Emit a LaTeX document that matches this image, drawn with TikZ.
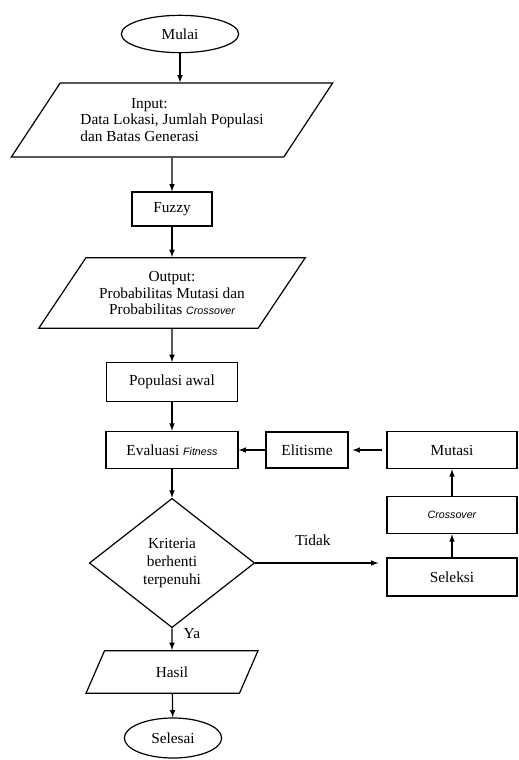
\documentclass[tikz,border=0pt]{standalone}
\usepackage{fontspec}
\setmainfont{Liberation Serif}
\setsansfont{Liberation Sans}
\usetikzlibrary{arrows,shapes.geometric}

\newcommand{\istilah}[1]{{\sffamily\itshape\footnotesize #1}}

\tikzset{
    terminal/.style={draw, ellipse, inner sep=0pt},
    proses/.style={draw, rectangle, inner sep=2pt},
    io/.style={draw, trapezium, trapezium left angle=45, trapezium right angle=135,
        trapezium stretches body, inner sep=2pt},
    keputusan/.style={draw, diamond, aspect=1.28, inner sep=0pt},
    panah/.style={->, >=latex}
}

\begin{document}
\begin{tikzpicture}[x=0.75pt, y=-0.75pt, line width=0.9pt,
    font=\fontsize{11.5}{12.5}\selectfont]
    \useasboundingbox (0,0) rectangle (518,760);
    \node[terminal, minimum width=88pt, minimum height=28pt] (mulai) at (180,34) {Mulai};
    \node[io, minimum width=241pt, minimum height=55.5pt, align=left] (input) at (172,120)
        {\hspace*{3.3em}Input:\\Data Lokasi, Jumlah Populasi\\dan Batas Generasi};
    \node[proses, minimum width=60pt, minimum height=25.5pt] (fuzzy) at (172,209) {Fuzzy};
    \node[io, trapezium left angle=46, trapezium right angle=134,
        minimum width=200pt, minimum height=53pt, align=center] (output) at (172,293)
        {Output:\\Probabilitas Mutasi dan\\Probabilitas \istilah{Crossover}};
    \node[proses, minimum width=98pt, minimum height=29pt] (populasi) at (172,382) {Populasi awal};
    \node[proses, minimum width=99pt, minimum height=28pt] (evaluasi) at (172,450) {Evaluasi \istilah{Fitness}};
    \node[proses, minimum width=61.5pt, minimum height=27pt] (elitisme) at (307,450) {Elitisme};
    \node[proses, minimum width=97.5pt, minimum height=28pt] (mutasi) at (452,450) {Mutasi};
    \node[proses, minimum width=97.5pt, minimum height=28pt] (crossover) at (452,515) {\istilah{Crossover}};
    \node[proses, minimum width=97.5pt, minimum height=28.5pt] (seleksi) at (452,577) {Seleksi};
    \node[keputusan, minimum width=124pt, minimum height=97pt, align=center,
        font=\fontsize{11.5}{13.5}\selectfont] (kriteria) at (172,563) {Kriteria\\berhenti\\terpenuhi};
    \node[io, trapezium left angle=41, trapezium right angle=139,
        minimum width=129pt, minimum height=32pt] (hasil) at (172,672) {Hasil};
    \node[terminal, minimum width=73pt, minimum height=30pt] (selesai) at (173,738) {Selesai};

    \draw[panah] (mulai.south) -- (mulai.south |- input.north);
    \draw[panah] (input) -- (fuzzy);
    \draw[panah] (fuzzy) -- (output);
    \draw[panah] (output) -- (populasi);
    \draw[panah] (populasi) -- (evaluasi);
    \draw[panah] (evaluasi) -- (kriteria);
    \draw[panah] (kriteria) -- node[right=5pt, pos=0.25] {Ya} (hasil);
    \draw[panah] (hasil) -- (selesai);
    \draw[panah, shorten >=6pt] (kriteria.east) -- node[pos=0.44, above=9pt] {Tidak} (kriteria.east -| seleksi.west);
    \draw[panah] (seleksi) -- (crossover);
    \draw[panah] (crossover) -- (mutasi);
    \draw[panah, shorten <=3.5pt, shorten >=3pt] (mutasi) -- (elitisme);
    \draw[panah] (elitisme) -- (evaluasi);
\end{tikzpicture}
\end{document}
